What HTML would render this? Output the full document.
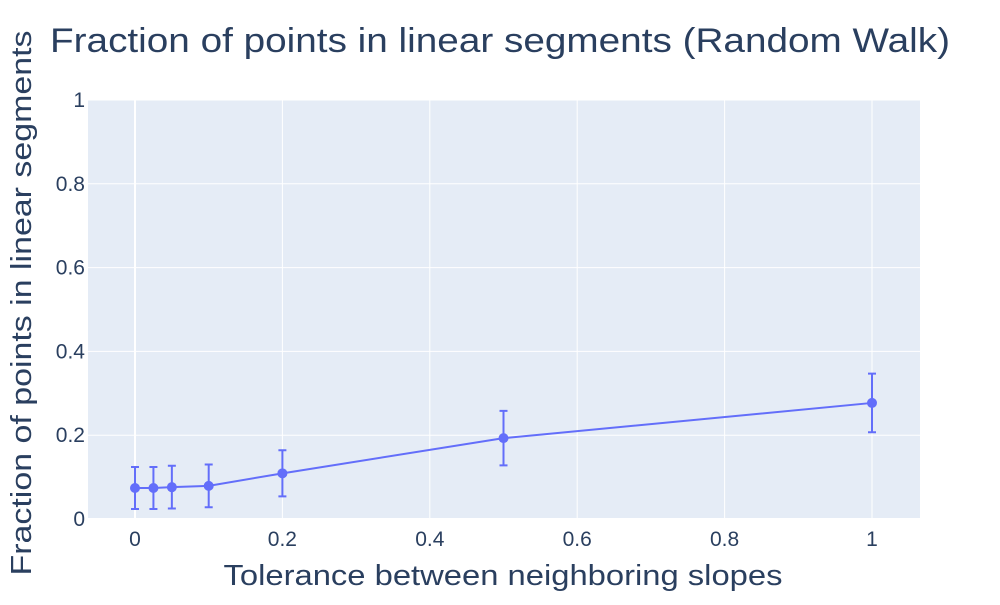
<!DOCTYPE html>
<html><head><meta charset="utf-8"><style>
body{margin:0;background:#fff;font-family:"Liberation Sans",sans-serif;}
</style></head><body>
<svg id="chart" width="1000" height="600" xmlns="http://www.w3.org/2000/svg"></svg>
<script>
const xValues=[0,0.025,0.05,0.1,0.2,0.5,1];
const yValues=[0.074,0.074,0.076,0.079,0.109,0.193,0.277];
const yErrors=[0.05,0.05,0.051,0.051,0.055,0.065,0.07];
const xTicks=[0,0.2,0.4,0.6,0.8,1];
const xTickLabels=["0","0.2","0.4","0.6","0.8","1"];
const yTicks=[0,0.2,0.4,0.6,0.8,1];
const yTickLabels=["0","0.2","0.4","0.6","0.8","1"];
const L=88,R=920,T=100,B=519;
const xs=v=>135+v*737;
const ys=v=>B-v*(B-T);
const svg=document.getElementById('chart');
const NS="http://www.w3.org/2000/svg";
function mk(tag,attrs,parent){const e=document.createElementNS(NS,tag);for(const k in attrs)e.setAttribute(k,attrs[k]);(parent||svg).appendChild(e);return e;}
const bg=mk('rect',{x:L,y:T,width:R-L,height:B-T,fill:'#e5ecf6'});


xTicks.forEach((t,i)=>{
 const g=mk('line',{x1:xs(t),x2:xs(t),y1:T,y2:B,stroke:'#fff','stroke-width':i==0?2:1});
 
 
 const tx=mk('text',{x:xs(t),y:546,'text-anchor':'middle','font-size':21,fill:'#2a3f5f'});
 tx.textContent=xTickLabels[i];
 
 
});
yTicks.forEach((t,i)=>{
 const g=mk('line',{x1:L,x2:R,y1:ys(t),y2:ys(t),stroke:'#fff','stroke-width':i==0?2:1});
 
 
 const tx=mk('text',{x:85,y:ys(t)+7,'text-anchor':'end','font-size':21,fill:'#2a3f5f'});
 tx.textContent=yTickLabels[i];
 
 
});
const line=mk('polyline',{points:xValues.map((x,i)=>xs(x)+','+ys(yValues[i])).join(' '),fill:'none',stroke:'#636efa','stroke-width':2});


xValues.forEach((x,i)=>{
 const cx=xs(x),top=ys(yValues[i]+yErrors[i]),bot=ys(yValues[i]-yErrors[i]);
 const eb=mk('path',{d:`M${cx},${top}V${bot}M${cx-4},${top}H${cx+4}M${cx-4},${bot}H${cx+4}`,stroke:'#636efa','stroke-width':2,fill:'none'});
 
 
 const c=mk('circle',{cx:cx,cy:ys(yValues[i]),r:5,fill:'#636efa'});
 
 
});
const title=mk('text',{x:50,y:52,'font-size':34,fill:'#2a3f5f',textLength:900,lengthAdjust:'spacingAndGlyphs'});
title.textContent='Fraction of points in linear segments (Random Walk)';


const xt=mk('text',{x:503,y:585,'text-anchor':'middle','font-size':29,fill:'#2a3f5f',textLength:559,lengthAdjust:'spacingAndGlyphs'});
xt.textContent='Tolerance between neighboring slopes';


const yt=mk('text',{x:0,y:0,'text-anchor':'middle','font-size':29,fill:'#2a3f5f',textLength:545,lengthAdjust:'spacingAndGlyphs',transform:'translate(31,303) rotate(-90)'});
yt.textContent='Fraction of points in linear segments';


</script>
</body></html>
